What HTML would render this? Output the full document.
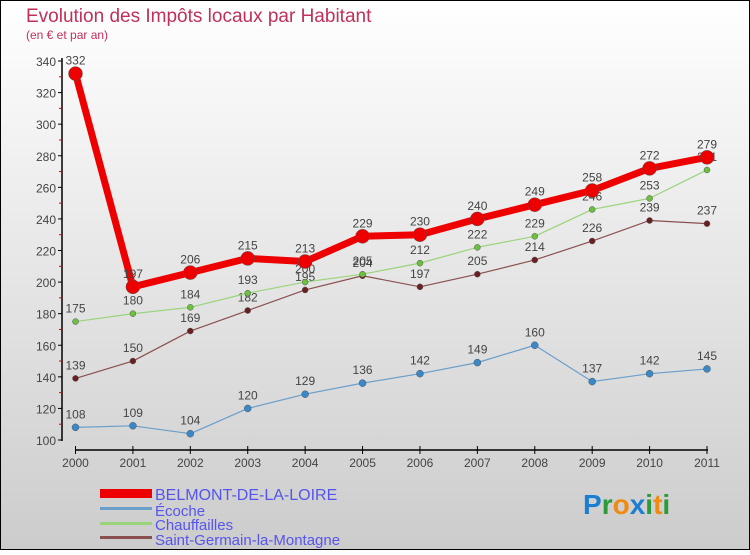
<!DOCTYPE html>
<html><head><meta charset="utf-8"><style>
html,body{margin:0;padding:0;}
body{width:750px;height:550px;overflow:hidden;font-family:"Liberation Sans",sans-serif;}
</style></head><body>
<svg id="chart" width="750" height="550" xmlns="http://www.w3.org/2000/svg" font-family="Liberation Sans, sans-serif">
<defs><linearGradient id="bg" x1="0" y1="0" x2="0" y2="1"><stop offset="0" stop-color="#ffffff"/><stop offset="1" stop-color="#cccccc"/></linearGradient></defs>
<rect x="0.5" y="0.5" width="749" height="549" fill="url(#bg)" stroke="#000" stroke-width="1"/>
<text x="26" y="22" font-size="19" fill="#c0305a">Evolution des Impôts locaux par Habitant</text>
<text x="26" y="39" font-size="12" fill="#c0305a">(en € et par an)</text>
<g id="axes"></g>
<g id="series"></g>
<g>
<rect x="100" y="489" width="52" height="9" fill="#e00"/>
<text x="155" y="500" font-size="16" fill="#5555ee">BELMONT-DE-LA-LOIRE</text>
<rect x="100" y="507" width="52" height="3" fill="#6a9ecb"/>
<text x="155" y="516" font-size="15" fill="#5555ee">Écoche</text>
<rect x="100" y="522" width="52" height="3" fill="#99d47a"/>
<text x="155" y="530" font-size="15" fill="#5555ee">Chauffailles</text>
<rect x="100" y="536" width="52" height="3" fill="#8a5050"/>
<text x="155" y="545" font-size="15" fill="#5555ee">Saint-Germain-la-Montagne</text>
</g>
<g font-size="28" font-weight="bold">
<text x="583" y="514"><tspan fill="#1a7fd0">P</tspan><tspan fill="#2a9a3a">r</tspan><tspan fill="#f08a10">o</tspan><tspan fill="#1a7fd0">x</tspan><tspan fill="#2a9a3a">i</tspan><tspan fill="#f08a10">t</tspan><tspan fill="#2a9a3a">i</tspan></text>
</g>
</svg>
<script>
const years = ["2000","2001","2002","2003","2004","2005","2006","2007","2008","2009","2010","2011"];
const yTicks = [100,120,140,160,180,200,220,240,260,280,300,320,340];
const belmont = [332,197,206,215,213,229,230,240,249,258,272,279];
const ecoche = [108,109,104,120,129,136,142,149,160,137,142,145];
const chauffailles = [175,180,184,193,200,205,212,222,229,246,253,271];
const saintGermain = [139,150,169,182,195,204,197,205,214,226,239,237];

const NS = "http://www.w3.org/2000/svg";
const x0 = 75.5, x1 = 707, yMin = 100, yMax = 340, py0 = 440, py1 = 61;
function xs(i){ return x0 + i*(x1-x0)/(years.length-1); }
function ys(v){ return py0 - (v-yMin)*(py0-py1)/(yMax-yMin); }
function mk(tag, attrs, parent){ const e=document.createElementNS(NS,tag); for(const k in attrs) e.setAttribute(k,attrs[k]); parent.appendChild(e); return e; }

const axes = document.getElementById("axes");
const ya = mk("line",{x1:62,y1:58,x2:62,y2:441,stroke:"#000","stroke-width":1.5},axes);


yTicks.forEach(t=>{
  const y = ys(t);
  mk("line",{x1:58,y1:y,x2:62,y2:y,stroke:"#000"},axes);
  const mid = ys(t+10);
  if (t < yMax) mk("line",{x1:59,y1:mid,x2:62,y2:mid,stroke:"#d00"},axes);
  const tx = mk("text",{x:56,y:y+5,"text-anchor":"end","font-size":12,fill:"#444"},axes);
  tx.textContent = t;
  
  
});
const xa = mk("line",{x1:75,y1:450,x2:708,y2:450,stroke:"#000","stroke-width":1.5},axes);


years.forEach((yr,i)=>{
  const x = xs(i);
  mk("line",{x1:x,y1:446,x2:x,y2:454,stroke:"#000"},axes);
  const tx = mk("text",{x:x,y:467,"text-anchor":"middle","font-size":12,fill:"#444"},axes);
  tx.textContent = yr;
  
  
});

const sg = document.getElementById("series");
function drawSeries(vals, color, dotColor, width, r, name){
  const g = mk("g",{},sg);
  
  
  const pts = vals.map((v,i)=>xs(i)+","+ys(v)).join(" ");
  mk("polyline",{points:pts,fill:"none",stroke:color,"stroke-width":width,"stroke-linejoin":"round"},g);
  vals.forEach((v,i)=>{
    const c = mk("circle",{cx:xs(i),cy:ys(v),r:r,fill:dotColor,stroke:"#555","stroke-width":0.5},g);
    
    
    const t = mk("text",{x:xs(i),y:ys(v)-9,"text-anchor":"middle","font-size":12,fill:"#444"},g);
    t.textContent = v;
    
    
  });
}
drawSeries(saintGermain,"#8a5050","#6a2020",1.2,3,"series-saint-germain");
drawSeries(chauffailles,"#99d47a","#6cc040",1.2,3,"series-chauffailles");
drawSeries(ecoche,"#6a9ecb","#3a88c8",1.2,3.5,"series-ecoche");
drawSeries(belmont,"#ee0000","#ee0000",7,7,"series-belmont");
</script>
</body></html>
